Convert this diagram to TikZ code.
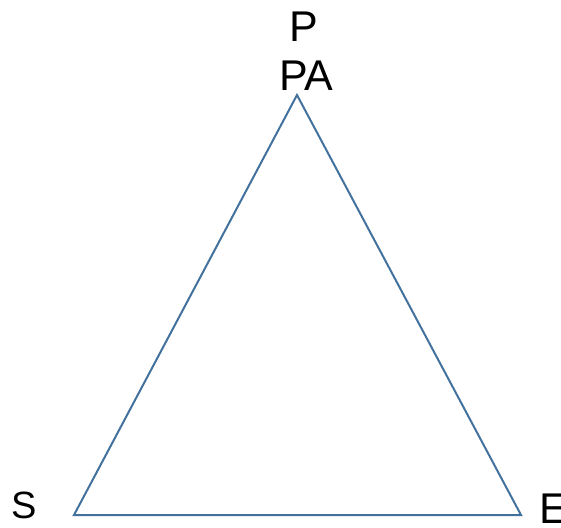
\documentclass[tikz,border=0pt]{standalone}
\usepackage{fontspec}
\setmainfont{Liberation Sans}
\usetikzlibrary{positioning}
\definecolor{Edge}{HTML}{41719C}
\tikzset{
  side/.style={draw=Edge,line width=2pt,line join=miter},
  lab/.style={font=\fontsize{43}{50}\selectfont,inner sep=0pt,anchor=base west,text=black},
  smalllab/.style={lab,font=\fontsize{38}{45}\selectfont}
}
\begin{document}
\begin{tikzpicture}[x=1pt,y=1pt]
        \useasboundingbox (0,0) rectangle (561,527);
        \coordinate (top) at (297,432); \coordinate (left) at (74,12); \coordinate (right) at (521,12);
        \draw[side] (top)--(left)--(right)--cycle;
        \node[lab] (p) at (289,485) {P};
        \node[lab] (pa) at (279,436) {PA};
        \node[smalllab] (s) at (11,9) {S};
        \node[lab] (e) at (539,4) {E};
      \end{tikzpicture}
\end{document}
